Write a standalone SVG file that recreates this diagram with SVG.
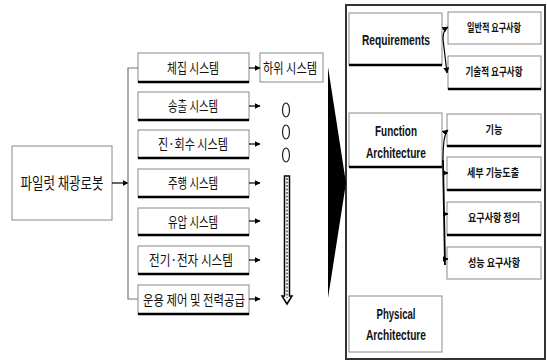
<svg xmlns="http://www.w3.org/2000/svg" width="547" height="362" viewBox="0 0 547 362">
<style>
.bx{fill:#fff;stroke:#8a8a8a;stroke-width:1}
.bb{stroke:#000;stroke-width:2.5}
.kr{font-family:"Noto Sans CJK KR","Noto Sans",sans-serif;fill:#111;text-anchor:middle}
.en{font-family:"Liberation Sans","Noto Sans",sans-serif;font-weight:bold;fill:#111;text-anchor:middle}
.ln{fill:none;stroke:#000;stroke-width:1.2}
</style>
<defs>
<marker id="ah" markerWidth="6" markerHeight="6" refX="5.5" refY="3" orient="auto" markerUnits="userSpaceOnUse">
<path d="M0,0 L6,3 L0,6 Z" fill="#000"/>
</marker>
</defs>
<rect width="547" height="362" fill="#fff"/>
<g id="main">
<rect class="bx" x="12" y="146" width="100" height="74" stroke="#777"/>
<text class="kr" x="62" y="189" font-size="16" textLength="83" lengthAdjust="spacingAndGlyphs">파일럿 채광로봇</text>
</g>
<g id="sys1"><rect class="bx" x="138" y="53" width="111" height="29"/><line class="bb" x1="138" y1="82" x2="249" y2="82"/><text class="kr" x="193" y="73" font-size="14" textLength="52" lengthAdjust="spacingAndGlyphs">체집 시스템</text></g>
<g id="sys2"><rect class="bx" x="138" y="92" width="111" height="28"/><line class="bb" x1="138" y1="120" x2="249" y2="120"/><text class="kr" x="193" y="111" font-size="14" textLength="50" lengthAdjust="spacingAndGlyphs">송출 시스템</text></g>
<g id="sys3"><rect class="bx" x="138" y="130" width="111" height="28"/><line class="bb" x1="138" y1="158" x2="249" y2="158"/><text class="kr" x="193" y="149" font-size="14" textLength="70" lengthAdjust="spacingAndGlyphs">진·회수 시스템</text></g>
<g id="sys4"><rect class="bx" x="138" y="169" width="111" height="28"/><line class="bb" x1="138" y1="197" x2="249" y2="197"/><text class="kr" x="193" y="188" font-size="14" textLength="50" lengthAdjust="spacingAndGlyphs">주행 시스템</text></g>
<g id="sys5"><rect class="bx" x="138" y="208" width="111" height="27"/><line class="bb" x1="138" y1="235" x2="249" y2="235"/><text class="kr" x="193" y="227" font-size="14" textLength="50" lengthAdjust="spacingAndGlyphs">유압 시스템</text></g>
<g id="sys6"><rect class="bx" x="138" y="246" width="111" height="28"/><line class="bb" x1="138" y1="274" x2="249" y2="274"/><text class="kr" x="191" y="265" font-size="14" textLength="84" lengthAdjust="spacingAndGlyphs">전기·전자 시스템</text></g>
<g id="sys7"><rect class="bx" x="138" y="285" width="111" height="29"/><line class="bb" x1="138" y1="314" x2="249" y2="314"/><text class="kr" x="194" y="305" font-size="14" textLength="102" lengthAdjust="spacingAndGlyphs">운용 제어 및 전력공급</text></g>
<g id="sub"><rect class="bx" x="260" y="53" width="63" height="29"/><text class="kr" x="290" y="73" font-size="14" textLength="54" lengthAdjust="spacingAndGlyphs">하위 시스템</text></g>
<g id="frame"><rect x="346" y="5" width="199" height="354" fill="none" stroke="#333" stroke-width="2"/></g>
<g id="req"><rect class="bx" x="349" y="13" width="93" height="52"/><line class="bb" x1="349" y1="65" x2="442" y2="65"/><text class="en" x="396" y="45" font-size="14" textLength="68" lengthAdjust="spacingAndGlyphs">Requirements</text></g>
<g id="func"><rect class="bx" x="349" y="113" width="93" height="54"/><line class="bb" x1="349" y1="167" x2="442" y2="167"/><text class="en" x="396" y="136" font-size="14" textLength="42" lengthAdjust="spacingAndGlyphs">Function</text><text class="en" x="396" y="158" font-size="14" textLength="60" lengthAdjust="spacingAndGlyphs">Architecture</text></g>
<g id="phys"><rect class="bx" x="349" y="296" width="93" height="56"/><text class="en" x="396" y="319" font-size="14" textLength="39" lengthAdjust="spacingAndGlyphs">Physical</text><text class="en" x="396" y="340" font-size="14" textLength="60" lengthAdjust="spacingAndGlyphs">Architecture</text></g>
<g id="r1"><rect class="bx" x="448" y="12" width="93" height="32"/><text class="kr" x="494" y="32" font-size="11" font-weight="bold" textLength="54" lengthAdjust="spacingAndGlyphs">일반적 요구사항</text></g>
<g id="r2"><rect class="bx" x="448" y="56" width="93" height="33"/><line class="bb" x1="448" y1="89" x2="541" y2="89" stroke-width="2"/><text class="kr" x="494" y="76" font-size="11" font-weight="bold" textLength="57" lengthAdjust="spacingAndGlyphs">기술적 요구사항</text></g>
<g id="f1"><rect class="bx" x="447" y="114" width="94" height="32"/><line class="bb" x1="447" y1="146" x2="541" y2="146" stroke-width="2"/><text class="kr" x="494" y="134" font-size="11" font-weight="bold" textLength="17" lengthAdjust="spacingAndGlyphs">기능</text></g>
<g id="f2"><rect class="bx" x="447" y="157" width="94" height="33"/><line class="bb" x1="447" y1="190" x2="541" y2="190" stroke-width="2"/><text class="kr" x="493" y="177" font-size="11" font-weight="bold" textLength="52" lengthAdjust="spacingAndGlyphs">세부 기능도출</text></g>
<g id="f3"><rect class="bx" x="447" y="202" width="94" height="33"/><line class="bb" x1="447" y1="235" x2="541" y2="235" stroke-width="2"/><text class="kr" x="494" y="222" font-size="11" font-weight="bold" textLength="52" lengthAdjust="spacingAndGlyphs">요구사항 정의</text></g>
<g id="f4"><rect class="bx" x="447" y="247" width="94" height="32"/><text class="kr" x="494" y="267" font-size="11" font-weight="bold" textLength="52" lengthAdjust="spacingAndGlyphs">성능 요구사항</text></g>
<g id="connectors">
<line class="ln" x1="112" y1="183" x2="128" y2="183" stroke-width="1.6" marker-end="url(#ah)"/>
<path d="M138,68 H128 V299 H138" fill="none" stroke="#777" stroke-width="1.2"/>
<line class="ln" x1="249" y1="68" x2="260" y2="68" marker-end="url(#ah)"/>
<line class="ln" x1="249" y1="106" x2="260" y2="106" marker-end="url(#ah)"/>
<line class="ln" x1="249" y1="144" x2="260" y2="144" marker-end="url(#ah)"/>
<line class="ln" x1="249" y1="183" x2="260" y2="183" marker-end="url(#ah)"/>
<line class="ln" x1="249" y1="221" x2="260" y2="221" marker-end="url(#ah)"/>
<line class="ln" x1="249" y1="260" x2="260" y2="260" marker-end="url(#ah)"/>
<line class="ln" x1="249" y1="299" x2="260" y2="299" marker-end="url(#ah)"/>
<ellipse cx="286" cy="110" rx="3.5" ry="7" fill="none" stroke="#222" stroke-width="1.2"/>
<ellipse cx="286" cy="132" rx="3.5" ry="7" fill="none" stroke="#222" stroke-width="1.2"/>
<ellipse cx="286" cy="155" rx="3.5" ry="7" fill="none" stroke="#222" stroke-width="1.2"/>
<path d="M284.5,176 H289.5 V296 H292 L287,304 L282,296 H284.5 Z" fill="#fff" stroke="#000" stroke-width="1.5"/>
<line x1="287" y1="178" x2="287" y2="298" stroke="#555" stroke-width="1.5" stroke-dasharray="2,1.5"/>
<polygon points="328,67 346,183 328,298" fill="#000"/>
<path d="M443,39 Q443,30 448,27" class="ln" marker-end="url(#ah)"/>
<path d="M443,39 L447,73" class="ln" marker-end="url(#ah)"/>
<path d="M443,160 Q443,134 448,130" class="ln" marker-end="url(#ah)"/>
<path d="M443,160 L445,265" fill="none" stroke="#000" stroke-width="1.8"/>
<line class="ln" x1="444" y1="173" x2="448" y2="173" marker-end="url(#ah)"/>
<line class="ln" x1="444" y1="214" x2="448" y2="214" marker-end="url(#ah)"/>
<line class="ln" x1="444" y1="259" x2="448" y2="259" marker-end="url(#ah)"/>
</g>
</svg>
